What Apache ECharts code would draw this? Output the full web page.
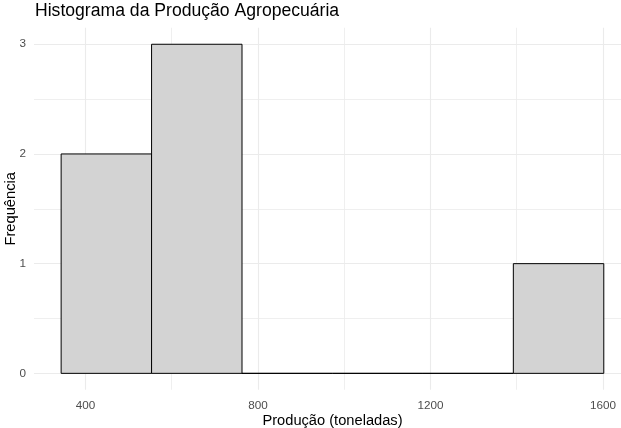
<!DOCTYPE html>
<html>
<head>
<meta charset="utf-8">
<script src="https://cdn.jsdelivr.net/npm/echarts@6/dist/echarts.min.js"></script>
<style>
  html, body { margin: 0; padding: 0; background: #fff; }
  #main { width: 621px; height: 428px; }
</style>
</head>
<body>
<div id="main"></div>
<script>
// histogram bins (limites das classes) and counts
var binEdges = [343.6, 553.3, 763.0, 972.7, 1182.4, 1392.1, 1601.8];
var binCounts = [2, 3, 0, 0, 0, 1];
var xMajorTicks = [400, 800, 1200, 1600];
var xMinorTicks = [600, 1000, 1400];
var yMajorTicks = [0, 1, 2, 3];
var yMinorTicks = [0.5, 1.5, 2.5];

var font = 'Liberation Sans, Arial, sans-serif';
var gridColor = '#EBEBEB';

var bins = [];
for (var i = 0; i < binCounts.length; i++) {
    bins.push([binEdges[i], binEdges[i + 1], binCounts[i]]);
}

var plain = function (v) { return String(v); };

var myChart = echarts.init(document.getElementById('main'));
var option = {
    backgroundColor: '#fff',
    animation: false,
    title: {
        text: 'Histograma da Produção Agropecuária',
        left: 35,
        top: 2,
        padding: 0,
        textStyle: { fontFamily: font, fontSize: 17.6, fontWeight: 'normal', color: '#000' }
    },
    grid: { left: 34, top: 27.8, width: 597, height: 362, outerBoundsMode: 'none', containLabel: false },
    xAxis: [{
        type: 'value',
        min: 280.7,
        max: 1664.9,
        name: 'Produção (toneladas)',
        nameLocation: 'middle',
        nameGap: 24,
        nameMoveOverlap: false,
        nameTextStyle: { fontFamily: font, fontSize: 14.67, color: '#000' },
        axisLine: { show: false },
        axisTick: { show: false, customValues: xMajorTicks },
        axisLabel: { customValues: xMajorTicks, formatter: plain, margin: 10, fontFamily: font, fontSize: 11.7, color: '#4D4D4D' },
        splitLine: { show: true, lineStyle: { color: gridColor, width: 1.1 } }
    }, {
        // minor grid
        type: 'value',
        min: 280.7,
        max: 1664.9,
        position: 'bottom',
        axisLine: { show: false },
        axisTick: { show: false, customValues: xMinorTicks },
        axisLabel: { show: false, customValues: xMinorTicks },
        splitLine: { show: true, lineStyle: { color: gridColor, width: 0.8 } }
    }],
    yAxis: [{
        type: 'value',
        min: -0.15,
        max: 3.15,
        name: 'Frequência',
        nameLocation: 'middle',
        nameGap: 16,
        nameMoveOverlap: false,
        nameTextStyle: { fontFamily: font, fontSize: 14.67, color: '#000' },
        axisLine: { show: false },
        axisTick: { show: false, customValues: yMajorTicks },
        axisLabel: { customValues: yMajorTicks, formatter: plain, margin: 8, fontFamily: font, fontSize: 11.7, color: '#4D4D4D' },
        splitLine: { show: true, lineStyle: { color: gridColor, width: 1.1 } }
    }, {
        type: 'value',
        min: -0.15,
        max: 3.15,
        position: 'left',
        axisLine: { show: false },
        axisTick: { show: false, customValues: yMinorTicks },
        axisLabel: { show: false, customValues: yMinorTicks },
        splitLine: { show: true, lineStyle: { color: gridColor, width: 0.8 } }
    }],
    series: [{
        type: 'custom',
        xAxisIndex: 0,
        yAxisIndex: 0,
        renderItem: function (params, api) {
            var p0 = api.coord([api.value(0), api.value(2)]);
            var p1 = api.coord([api.value(1), 0]);
            return {
                type: 'rect',
                shape: { x: p0[0], y: p0[1], width: p1[0] - p0[0], height: p1[1] - p0[1] },
                style: { fill: '#D3D3D3', stroke: '#000', lineWidth: 1 }
            };
        },
        encode: { x: [0, 1], y: 2 },
        data: bins
    }]
};
myChart.setOption(option);
</script>
</body>
</html>
